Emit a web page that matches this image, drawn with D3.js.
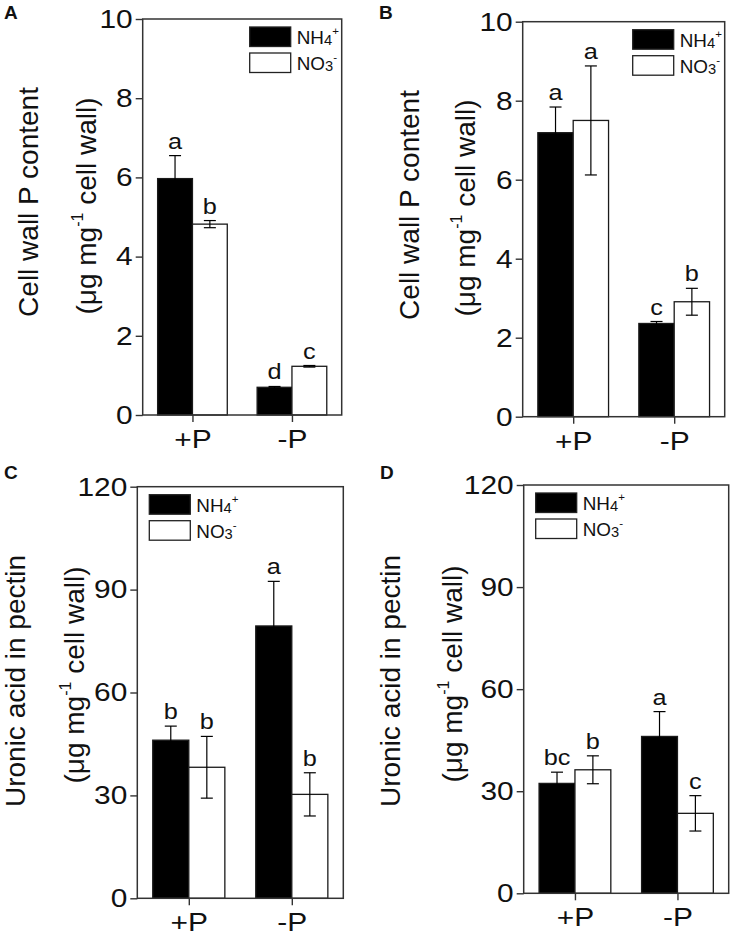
<!DOCTYPE html>
<html><head><meta charset="utf-8">
<script src="https://cdn.jsdelivr.net/npm/d3@7"></script>
<style>
body{margin:0;background:#fff}
svg{display:block}
text{font-family:"Liberation Sans",Arial,Helvetica,sans-serif;fill:#111}
</style>
</head><body>
<svg id="chart" width="734" height="936"></svg>
<script>
// ---------------- DATA ----------------
const categories = ["+P", "-P"];
const seriesNames = ["NH4", "NO3"];
const ticksP = [0, 2, 4, 6, 8, 10];
const ticksU = [0, 30, 60, 90, 120];

// Panel A
const aNH4 = [5.97, 0.70];
const aNH4Err = [0.58, 0.02];
const aNO3 = [4.82, 1.23];
const aNO3Err = [0.09, 0.02];
const aNH4Letters = ["a", "d"];
const aNO3Letters = ["b", "c"];

// Panel B
const bNH4 = [7.19, 2.36];
const bNH4Err = [0.65, 0.05];
const bNO3 = [7.50, 2.91];
const bNO3Err = [1.38, 0.34];
const bNH4Letters = ["a", "c"];
const bNO3Letters = ["a", "b"];

// Panel C
const cNH4 = [46.1, 79.4];
const cNH4Err = [4.1, 13.0];
const cNO3 = [38.2, 30.3];
const cNO3Err = [9.0, 6.3];
const cNH4Letters = ["b", "a"];
const cNO3Letters = ["b", "b"];

// Panel D
const dNH4 = [32.3, 46.1];
const dNH4Err = [3.3, 7.3];
const dNO3 = [36.3, 23.5];
const dNO3Err = [4.1, 5.2];
const dNH4Letters = ["bc", "a"];
const dNO3Letters = ["b", "c"];

const titleP = "Cell wall P content";
const titleU = "Uronic acid in pectin";
const unitPre = "(μg mg";
const unitSup = "-1";
const unitPost = " cell wall)";

// ---------------- LAYOUT ----------------
const svg = d3.select("#chart");
svg.append("rect").attr("width", 734).attr("height", 936).attr("fill", "#fff");

const HS = 1.15; // horizontal stretch of horizontal text

function stretch(sel, k) {
  sel.each(function () {
    const t = d3.select(this);
    const x = +t.attr("x") || 0;
    const y = +t.attr("y") || 0;
    t.attr("x", 0).attr("y", 0).attr("transform", `translate(${x},${y}) scale(${k},1)`);
  });
}

function panel(cfg) {
  const g = svg.append("g");
  const W = cfg.r - cfg.l;
  const x = d3.scalePoint().domain(categories).range([cfg.l, cfg.r]).padding(0.5);
  const y = d3.scaleLinear().domain([0, cfg.max]).range([cfg.b, cfg.t]);
  const bw = W * 0.175;
  const xs = d3.scaleBand().domain(seriesNames).range([-bw, bw]);

  const series = [
    { name: "NH4", vals: cfg.nh4, errs: cfg.nh4Err, letters: cfg.nh4L, fill: "#000" },
    { name: "NO3", vals: cfg.no3, errs: cfg.no3Err, letters: cfg.no3L, fill: "#fff" }
  ];

  series.forEach(s => {
    categories.forEach((c, i) => {
      const v = s.vals[i], e = s.errs[i];
      const x0 = x(c) + xs(s.name);
      g.append("rect")
        .attr("x", x0).attr("y", y(v))
        .attr("width", xs.bandwidth()).attr("height", y(0) - y(v))
        .attr("fill", s.fill).attr("stroke", "#1a1a1a").attr("stroke-width", 1.3);
      const cx = x0 + xs.bandwidth() / 2;
      const eg = g.append("g").attr("stroke", "#000").attr("stroke-width", 1.2);
      eg.append("line").attr("x1", cx).attr("x2", cx).attr("y1", y(v - e)).attr("y2", y(v + e));
      eg.append("line").attr("x1", cx - 6).attr("x2", cx + 6).attr("y1", y(v + e)).attr("y2", y(v + e));
      eg.append("line").attr("x1", cx - 6).attr("x2", cx + 6).attr("y1", y(v - e)).attr("y2", y(v - e));
      const lt = g.append("text").attr("x", cx).attr("y", y(v + e) - 7)
        .attr("text-anchor", "middle").attr("font-size", 22).text(s.letters[i]);
      stretch(lt, HS);
    });
  });

  // frame
  g.append("rect").attr("x", cfg.l).attr("y", cfg.t).attr("width", W).attr("height", cfg.b - cfg.t)
    .attr("fill", "none").attr("stroke", "#333").attr("stroke-width", 1.5);

  // y axis
  const ya = g.append("g").attr("transform", `translate(${cfg.l},0)`)
    .call(d3.axisLeft(y).tickValues(cfg.ticks).tickSize(7).tickSizeOuter(0).tickPadding(3));
  ya.select(".domain").remove();
  ya.selectAll("line").attr("stroke", "#333").attr("stroke-width", 1.4);
  ya.selectAll("text").attr("font-size", 26).attr("fill", "#111").attr("font-family", null);
  stretch(ya.selectAll("text"), HS);

  // x axis
  const xa = g.append("g").attr("transform", `translate(0,${cfg.b})`)
    .call(d3.axisBottom(x).tickSize(7).tickSizeOuter(0).tickPadding(7.5));
  xa.select(".domain").remove();
  xa.selectAll("line").attr("stroke", "#333").attr("stroke-width", 1.4);
  xa.selectAll("text").attr("font-size", 26).attr("fill", "#111").attr("font-family", null);
  stretch(xa.selectAll("text"), HS);

  // legend
  const lx = cfg.legRight ? cfg.r - 92 : cfg.l + 12;
  const ly = cfg.t + 8;
  const lg = g.append("g");
  [["NH", "4", "+", "#000"], ["NO", "3", "-", "#fff"]].forEach((d, i) => {
    lg.append("rect").attr("x", lx).attr("y", ly + i * 26).attr("width", 41).attr("height", 19.5)
      .attr("fill", d[3]).attr("stroke", "#222").attr("stroke-width", 1.3);
    const t = lg.append("text").attr("x", lx + 47).attr("y", ly + i * 26 + 17).attr("font-size", 18);
    t.append("tspan").text(d[0]);
    t.append("tspan").attr("font-size", 14).attr("dy", 1).text(d[1]);
    t.append("tspan").attr("font-size", 11).attr("dy", -10).text(d[2]);
    stretch(t, 1.05);
  });

  // y title
  g.append("text")
    .attr("transform", `translate(${cfg.l + cfg.t1x},${cfg.t1y}) rotate(-90)`)
    .attr("text-anchor", "middle").attr("font-size", 28).text(cfg.title);
  const t2 = g.append("text")
    .attr("transform", `translate(${cfg.l + cfg.t2x},${cfg.t2y}) rotate(-90)`)
    .attr("text-anchor", "middle").attr("font-size", 28);
  t2.append("tspan").text(unitPre);
  t2.append("tspan").attr("font-size", 16).attr("dy", -13).text(unitSup);
  t2.append("tspan").attr("dy", 13).text(unitPost);

  // panel label
  svg.append("text").attr("x", cfg.labX).attr("y", cfg.labY).attr("font-size", 19)
    .attr("font-weight", "bold").attr("fill", "#000").text(cfg.label);
}

panel({ label: "A", labX: 4, labY: 19, l: 142.7, r: 341.7, t: 19, b: 415, max: 10, ticks: ticksP,
  nh4: aNH4, nh4Err: aNH4Err, no3: aNO3, no3Err: aNO3Err, nh4L: aNH4Letters, no3L: aNO3Letters,
  legRight: true, title: titleP, t1x: -104.4, t1y: 202, t2x: -46.7, t2y: 206 });
panel({ label: "B", labX: 379, labY: 19, l: 522.7, r: 724.7, t: 21.7, b: 416.7, max: 10, ticks: ticksP,
  nh4: bNH4, nh4Err: bNH4Err, no3: bNO3, no3Err: bNO3Err, nh4L: bNH4Letters, no3L: bNO3Letters,
  legRight: true, title: titleP, t1x: -104, t1y: 205, t2x: -47.7, t2y: 208 });
panel({ label: "C", labX: 4, labY: 479, l: 137.3, r: 343.3, t: 486.7, b: 898.3, max: 120, ticks: ticksU,
  nh4: cNH4, nh4Err: cNH4Err, no3: cNO3, no3Err: cNO3Err, nh4L: cNH4Letters, no3L: cNO3Letters,
  legRight: false, title: titleU, t1x: -112.5, t1y: 681, t2x: -53, t2y: 675 });
panel({ label: "D", labX: 380, labY: 479, l: 523.7, r: 728.7, t: 485, b: 893.3, max: 120, ticks: ticksU,
  nh4: dNH4, nh4Err: dNH4Err, no3: dNO3, no3Err: dNO3Err, nh4L: dNH4Letters, no3L: dNO3Letters,
  legRight: false, title: titleU, t1x: -123.7, t1y: 681, t2x: -61.7, t2y: 674 });
</script>
</body></html>
